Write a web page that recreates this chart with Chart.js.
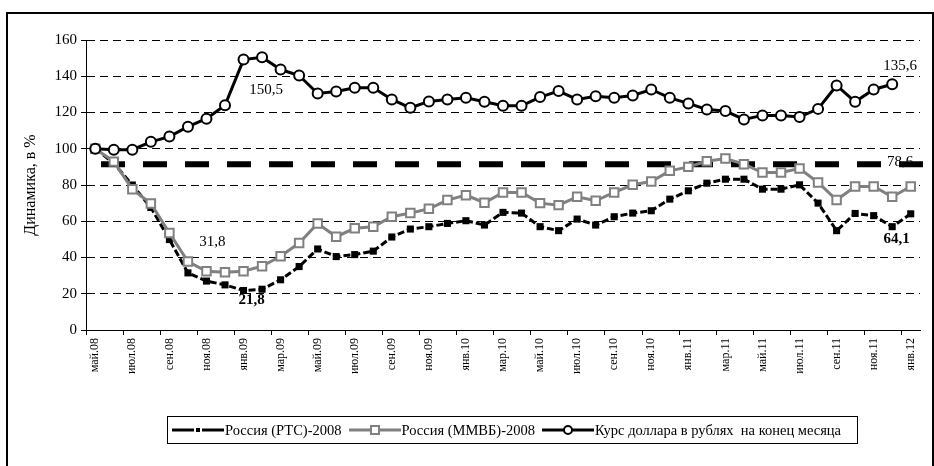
<!DOCTYPE html>
<html>
<head>
<meta charset="utf-8">
<script src="https://cdn.jsdelivr.net/npm/chart.js@4.4.1/dist/chart.umd.min.js"></script>
<style>
  body { margin: 0; background: #fff; }
  #wrap { position: relative; width: 934px; height: 466px; overflow: hidden; }
  #frame { position: absolute; left: 6px; top: 12px; width: 928px; height: 470px; box-sizing: border-box;
           border: 2px solid #000; border-bottom: none; }
  canvas { position: absolute; left: 0; top: 0; }
  #legend { position: absolute; left: 167px; top: 416px; width: 691px; height: 28px; box-sizing: border-box;
            border: 1px solid #000; font-family: "Liberation Serif", serif; font-size: 14.5px; color: #000;
            display: flex; align-items: center; padding-left: 4px; white-space: nowrap; }
  #legend span.item { display: inline-flex; align-items: center; margin-right: 7px; }
  #legend svg { margin-right: 1px; }
</style>
</head>
<body>
<div id="wrap">
  <div id="frame"></div>
  <canvas id="lineChart" width="934" height="466"></canvas>
  <div id="legend">
    <span class="item"><svg width="52" height="10"><line x1="0" y1="5" x2="22" y2="5" stroke="#000" stroke-width="3"/><rect x="24" y="3" width="4" height="4" fill="#000"/><line x1="30" y1="5" x2="52" y2="5" stroke="#000" stroke-width="3"/></svg>Россия (РТС)-2008</span>
    <span class="item"><svg width="52" height="12"><line x1="0" y1="6" x2="52" y2="6" stroke="#808080" stroke-width="3"/><rect x="22" y="2" width="8" height="8" fill="#fff" stroke="#808080" stroke-width="2"/></svg>Россия (ММВБ)-2008</span>
    <span class="item"><svg width="52" height="12"><line x1="0" y1="6" x2="52" y2="6" stroke="#000" stroke-width="3"/><circle cx="26" cy="6" r="4" fill="#fff" stroke="#000" stroke-width="2"/></svg>Курс доллара в рублях&nbsp; на конец месяца</span>
  </div>
</div>
<script>
const months = ['май.08','июн.08','июл.08','авг.08','сен.08','окт.08','ноя.08','дек.08',
  'янв.09','фев.09','мар.09','апр.09','май.09','июн.09','июл.09','авг.09','сен.09','окт.09','ноя.09','дек.09',
  'янв.10','фев.10','мар.10','апр.10','май.10','июн.10','июл.10','авг.10','сен.10','окт.10','ноя.10','дек.10',
  'янв.11','фев.11','мар.11','апр.11','май.11','июн.11','июл.11','авг.11','сен.11','окт.11','ноя.11','дек.11',
  'янв.12'];

const rts = [100, 92, 80, 67.6, 49.9, 31.5, 27, 24.9, 21.8, 22.5, 27.7, 35, 44.7, 40.5, 41.6, 43.5,
  51.3, 55.7, 57, 58.8, 60.3, 57.9, 64.9, 64.5, 57, 54.8, 61.2, 57.9, 62.5, 64.5, 65.8, 72.2,
  76.8, 81, 83.2, 83.2, 77.7, 77.7, 80.1, 70, 54.8, 64.3, 63.1, 57, 64.1];

const micex = [100, 92.9, 77.7, 69.8, 53.5, 37.8, 32.4, 31.8, 32.4, 35.2, 40.7, 48, 58.8, 51.5, 56.1, 57,
  62.5, 64.5, 66.9, 71.7, 74.4, 70.2, 75.9, 75.9, 70, 68.9, 73.5, 71.3, 75.9, 80.1, 81.9, 87.8,
  90, 93.1, 94.6, 91.5, 86.9, 86.9, 89.1, 81.4, 71.7, 79.2, 79.2, 73.5, 79.2];

const usd = [100, 99.5, 99.5, 103.8, 106.7, 112.2, 116.6, 124, 149.2, 150.5, 143.7, 140.4, 130.5, 131.6, 133.6, 133.6,
  127.2, 122.6, 126.1, 127.2, 128.1, 125.9, 123.7, 123.7, 128.5, 131.8, 127.2, 129, 128.1, 129.4, 132.7, 128.1,
  125, 121.7, 120.8, 116.2, 118.4, 118.4, 117.5, 122, 134.9, 125.9, 132.7, 135.6];

const refLevel = 91.4;
const refLabel = '78,6';

// подписи к точкам: [набор, индекс, текст, dx, dy, жирный]
const pointLabels = [
  [2, 9, '150,5', 4, 33, false],
  [2, 43, '135,6', 8, -18, false],
  [1, 6, '31,8', 6, -29, false],
  [0, 8, '21,8', 8, 10, true],
  [0, 44, '64,1', -14, 25, true]
];

const serif = '"Liberation Serif", "Times New Roman", serif';

const annotations = {
  id: 'annotations',
  beforeDatasetsDraw(chart) {
    const {ctx, chartArea, scales} = chart;
    const y = scales.y.getPixelForValue(refLevel);
    ctx.save();
    ctx.strokeStyle = '#000';
    ctx.lineWidth = 6;
    ctx.setLineDash([24, 18]);
    ctx.beginPath();
    ctx.moveTo(chartArea.left + 15, y);
    ctx.lineTo(chartArea.right + 3, y);
    ctx.stroke();
    ctx.restore();
  },
  afterDatasetsDraw(chart) {
    const {ctx, chartArea, scales} = chart;
    ctx.save();
    ctx.fillStyle = '#000';
    ctx.textAlign = 'center';
    ctx.textBaseline = 'middle';
    pointLabels.forEach(([ds, i, txt, dx, dy, bold]) => {
      const pt = chart.getDatasetMeta(ds).data[i];
      ctx.font = (bold ? 'bold ' : '') + '15px ' + serif;
      ctx.fillText(txt, pt.x + dx, pt.y + dy);
    });
    ctx.font = '15px ' + serif;
    ctx.fillText(refLabel, chartArea.right - 20, scales.y.getPixelForValue(refLevel) - 2);
    ctx.restore();
  }
};

new Chart(document.getElementById('lineChart'), {
  type: 'line',
  data: {
    labels: months,
    datasets: [
      {
        label: 'Россия (РТС)-2008',
        data: rts,
        borderColor: '#000',
        borderWidth: 3,
        borderDash: [7, 3],
        pointStyle: 'rect',
        pointRadius: 5,
        pointBackgroundColor: '#000',
        pointBorderColor: '#000',
        pointBorderWidth: 0,
        order: 2
      },
      {
        label: 'Россия (ММВБ)-2008',
        data: micex,
        borderColor: '#808080',
        borderWidth: 3,
        pointStyle: 'rect',
        pointRadius: 6,
        pointBackgroundColor: '#fff',
        pointBorderColor: '#808080',
        pointBorderWidth: 2,
        order: 1
      },
      {
        label: 'Курс доллара в рублях  на конец месяца',
        data: usd,
        borderColor: '#000',
        borderWidth: 3,
        pointStyle: 'circle',
        pointRadius: 5,
        pointBackgroundColor: '#fff',
        pointBorderColor: '#000',
        pointBorderWidth: 2,
        order: 0
      }
    ]
  },
  options: {
    responsive: false,
    animation: false,
    layout: {
      padding: {left: 14, right: 14, top: 40, bottom: 86}
    },
    scales: {
      x: {
        offset: true,
        afterFit: (scale) => { scale.height = 50; },
        grid: {
          offset: true,
          drawOnChartArea: false,
          tickLength: 5,
          tickColor: (ctx) => ctx.index % 2 === 0 ? '#000' : 'rgba(0,0,0,0)'
        },
        border: {color: '#000', width: 1},
        ticks: {
          autoSkip: false,
          maxRotation: 90,
          minRotation: 90,
          padding: 3,
          color: '#000',
          font: {family: serif, size: 12},
          callback: function(val, i) { return i % 2 === 0 ? this.getLabelForValue(val) : ''; }
        }
      },
      y: {
        min: 0,
        max: 160,
        afterFit: (scale) => { scale.width = 72; },
        grid: {
          color: '#000',
          lineWidth: 1,
          tickLength: 5
        },
        border: {color: '#000', width: 1, dash: [8, 5]},
        ticks: {
          stepSize: 20,
          padding: 4,
          color: '#000',
          font: {family: serif, size: 15}
        },
        title: {
          display: true,
          text: 'Динамика, в %',
          color: '#000',
          font: {family: serif, size: 16},
          padding: {top: 7, bottom: 0}
        }
      }
    },
    plugins: {
      legend: {display: false},
      tooltip: {enabled: false}
    }
  },
  plugins: [annotations]
});
</script>
</body>
</html>
